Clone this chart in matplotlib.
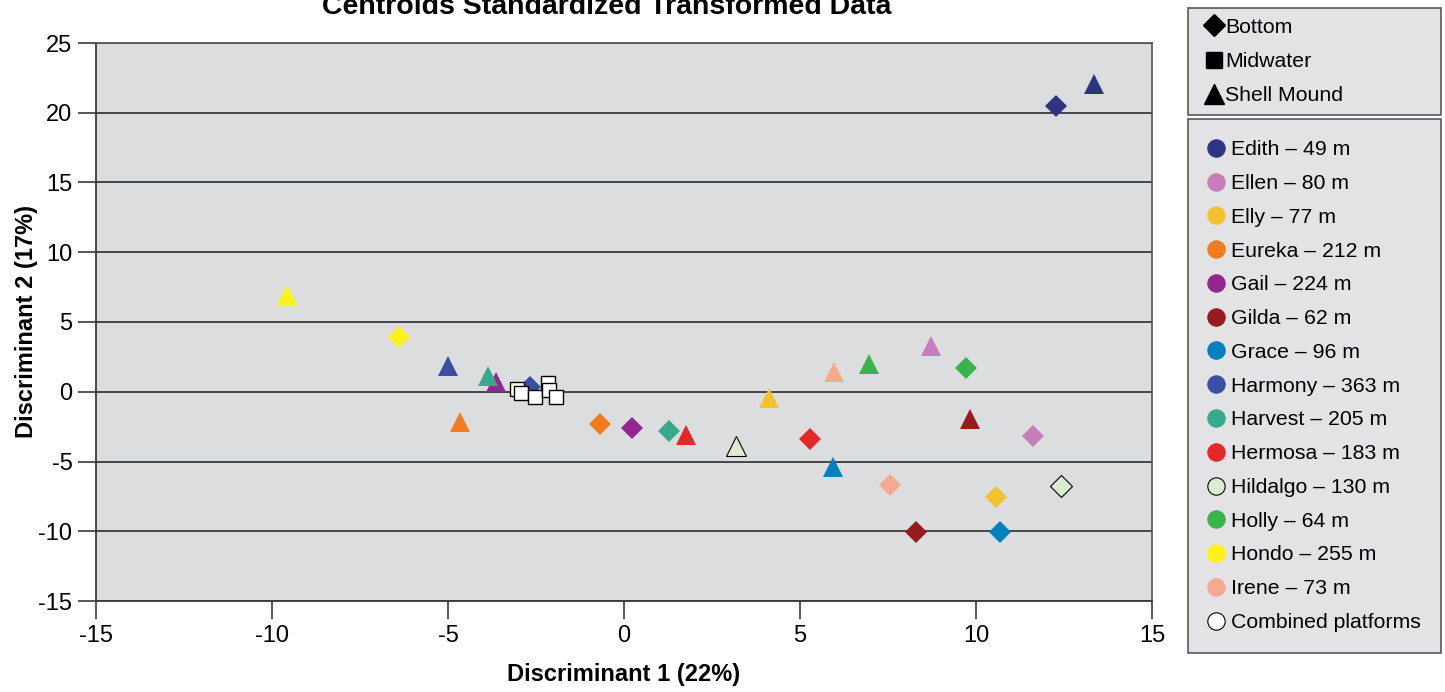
import matplotlib
matplotlib.use("Agg")
import matplotlib.pyplot as plt
from matplotlib.lines import Line2D

plt.rcParams['font.family'] = ['Liberation Sans', 'DejaVu Sans']
plt.rcParams['axes.unicode_minus'] = False

# platform names, depths and colours
platforms = ['Edith', 'Ellen', 'Elly', 'Eureka', 'Gail', 'Gilda', 'Grace', 'Harmony',
             'Harvest', 'Hermosa', 'Hildalgo', 'Holly', 'Hondo', 'Irene']
depths = [49, 80, 77, 212, 224, 62, 96, 363, 205, 183, 130, 64, 255, 73]
colors = ['#2B3580', '#C77EB8', '#F2C12E', '#F47C20', '#93278F', '#981B1E', '#0180BF',
          '#3A4FA3', '#36AA8C', '#E4282A', '#DDEBD3', '#38B44A', '#FFF21A', '#F5AA90']

# centroids - bottom habitat (diamonds)
bottom_x = [12.27, 11.61, 10.58, -0.68, 0.23, 8.30, 10.69, -2.67, 1.28, 5.28, 12.41, 9.71, -6.39, 7.57]
bottom_y = [20.45, -3.20, -7.53, -2.28, -2.63, -10.04, -10.06, 0.35, -2.78, -3.39, -6.78, 1.67, 3.94, -6.71]

# centroids - shell mound habitat (triangles)
shell_x = [13.35, 8.73, 4.12, -4.67, -3.63, 9.83, 5.95, -5.00, -3.85, 1.76, 3.18, 6.96, -9.57, 5.98]
shell_y = [22.05, 3.30, -0.48, -2.20, 0.67, -1.94, -5.38, 1.82, 1.15, -3.10, -3.92, 1.98, 6.90, 1.38]

# combined platforms - midwater (squares)
mid_x = [-3.04, -2.93, -2.53, -2.16, -2.13, -1.93]
mid_y = [0.20, -0.10, -0.36, 0.65, 0.14, -0.36]

bg = '#DCDDDF'

fig = plt.figure(figsize=(14.45, 6.92), dpi=100)
ax = fig.add_axes([96 / 1445, 1 - 601 / 692, (1152 - 96) / 1445, (601 - 43) / 692])
ax.set_facecolor(bg)

for i, name in enumerate(platforms):
    edge = 'black' if name == 'Hildalgo' else colors[i]
    lw = 0.8 if name == 'Hildalgo' else 0
    ax.plot(bottom_x[i], bottom_y[i], marker='D', ms=11, mfc=colors[i], mec=edge,
            mew=lw, ls='none', zorder=3)
    ax.plot(shell_x[i], shell_y[i], marker='^', ms=15, mfc=colors[i], mec=edge,
            mew=lw, ls='none', zorder=3)

ax.plot(mid_x, mid_y, marker='s', ms=9.5, mfc='white', mec='black', mew=1.0, ls='none', zorder=4)

ax.set_xlim(-15, 15)
ax.set_ylim(-15, 25)
ax.set_xticks(range(-15, 16, 5))
ax.set_yticks(range(-15, 26, 5))
ax.yaxis.grid(True, color='#3A3A3A', lw=1.3)
ax.set_axisbelow(True)
for s in ['top', 'right']:
    ax.spines[s].set_color('#555555')
    ax.spines[s].set_linewidth(1.2)
for s in ['left', 'bottom']:
    ax.spines[s].set_color('#3A3A3A')
    ax.spines[s].set_linewidth(1.3)
ax.tick_params(direction='out', length=13, width=1.2, color='#3A3A3A', labelsize=17, pad=4)

ax.set_xlabel('Discriminant 1 (22%)', fontsize=17, fontweight='bold', labelpad=12)
ax.set_ylabel('Discriminant 2 (17%)', fontsize=17, fontweight='bold', labelpad=0)

fig.text(607 / 1445, 1 - 14 / 692, 'Centroids Standardized Transformed Data',
         ha='center', va='baseline', fontsize=20.5, fontweight='bold')

# legend of habitats
hab_handles = [Line2D([], [], marker=m, color='black', ls='none', ms=s)
               for m, s in [('D', 11), ('s', 12), ('^', 14)]]
leg1 = fig.legend(hab_handles, ['Bottom', 'Midwater', 'Shell Mound'],
                  loc='upper left', bbox_to_anchor=(1188 / 1445, 1 - 8 / 692, 253 / 1445, 0.0),
                  mode='expand', fontsize=15.3, frameon=True, fancybox=False,
                  handlelength=1.5, handletextpad=-0.2, labelspacing=0.72,
                  borderpad=0.46, borderaxespad=0)
leg1.get_frame().set_facecolor(bg)
leg1.get_frame().set_edgecolor('#333333')
leg1.get_frame().set_linewidth(1.2)

# legend of platforms
plat_handles = []
plat_labels = []
for i, name in enumerate(platforms):
    edge = 'black' if name == 'Hildalgo' else colors[i]
    plat_handles.append(Line2D([], [], marker='o', ls='none', ms=12.5, mfc=colors[i], mec=edge, mew=0.8))
    plat_labels.append(f'{name} \u2013 {depths[i]} m')
plat_handles.append(Line2D([], [], marker='o', ls='none', ms=12.5, mfc='white', mec='black', mew=0.8))
plat_labels.append('Combined platforms')
leg2 = fig.legend(plat_handles, plat_labels,
                  loc='upper left', bbox_to_anchor=(1188 / 1445, 1 - 119 / 692, 253 / 1445, 0.0),
                  mode='expand', fontsize=15.3, frameon=True, fancybox=False,
                  handlelength=0.66, handletextpad=0.38, labelspacing=0.695,
                  borderpad=1.0, borderaxespad=0)
leg2.get_frame().set_facecolor(bg)
leg2.get_frame().set_edgecolor('#333333')
leg2.get_frame().set_linewidth(1.2)

fig.savefig('out.png', dpi=100, facecolor='white')
